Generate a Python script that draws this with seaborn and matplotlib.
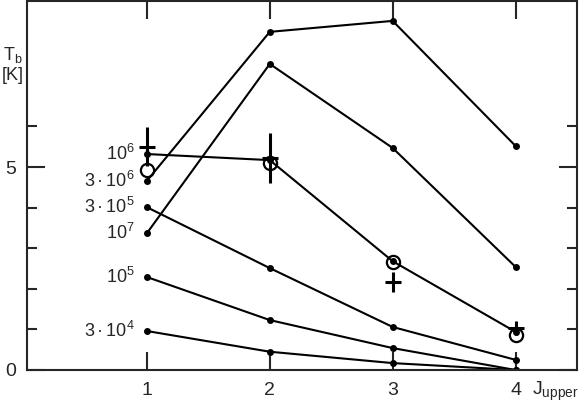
import numpy as np
import pandas as pd
import matplotlib
matplotlib.use("Agg")
import matplotlib.pyplot as plt
import seaborn as sns

# model curves, T_b [K] versus J_upper, one per density label
j_upper = [1, 2, 3, 4]
labels = ["3$\\,$·$\\,$10$^{6}$", "10$^{7}$", "10$^{6}$", "3$\\,$·$\\,$10$^{5}$", "10$^{5}$", "3$\\,$·$\\,$10$^{4}$"]
tb_3e6 = [4.66, 8.33, 8.60, 5.52]
tb_1e7 = [3.37, 7.54, 5.47, 2.54]
tb_1e6 = [5.32, 5.17, 2.68, 0.94]
tb_3e5 = [4.01, 2.51, 1.06, 0.25]
tb_1e5 = [2.29, 1.23, 0.54, 0.00]
tb_3e4 = [0.96, 0.45, 0.17, 0.00]

# observations: open circles and crosses with error bars
obs_circle = [4.93, 5.10, 2.66, 0.86]
obs_cross = [5.50, 5.22, 2.17, 1.03]
obs_err = [0.48, 0.62, 0.24, 0.18]

series = [tb_3e6, tb_1e7, tb_1e6, tb_3e5, tb_1e5, tb_3e4]
df = pd.DataFrame({
    "J": j_upper * len(series),
    "Tb": sum(series, []),
    "n": np.repeat(labels, len(j_upper)),
})

sns.set_style("ticks")
plt.rcParams["font.family"] = ["Liberation Sans", "DejaVu Sans"]
plt.rcParams["mathtext.fontset"] = "custom"
plt.rcParams["mathtext.rm"] = "Liberation Sans"
plt.rcParams["mathtext.default"] = "regular"

fig = plt.figure(figsize=(5.79, 4.03), dpi=100)
ax = fig.add_axes([0.0466, 0.0819, 0.9499, 0.9156])

sns.lineplot(data=df, x="J", y="Tb", units="n", estimator=None, color="k",
             marker="o", markersize=5, markeredgewidth=0, linewidth=1.5,
             sort=False, ax=ax, legend=False)

ax.plot(j_upper, obs_circle, linestyle="none", marker="o", markersize=9.5,
        markerfacecolor="none", markeredgecolor="k", markeredgewidth=1.6)
ax.errorbar(j_upper, obs_cross, yerr=obs_err, xerr=0.065, fmt="none",
            ecolor="k", elinewidth=2.2, capsize=0)

# density labels to the left of the J=1 points
for lab, vals in zip(labels, series):
    ax.annotate(lab, xy=(1, vals[0]), xytext=(-12, -6), textcoords="offset pixels",
                ha="right", va="baseline", fontsize=13)

ax.set_xlim(0.024, 4.5)
ax.set_ylim(0, 9.09)
ax.set_xticks(j_upper)
ax.set_xticklabels([str(j) for j in j_upper])
ax.set_yticks([0, 5])
ax.set_yticklabels(["0", "5"])
ax.set_yticks([1, 2, 3, 4, 6], minor=True)
ax.tick_params(axis="both", which="major", direction="in", length=13, width=1.5,
               labelsize=14, top=True, right=True)
ax.tick_params(axis="y", which="minor", direction="in", length=7, width=1.5,
               left=True, right=True)
ax.tick_params(axis="x", pad=9)
ax.tick_params(axis="y", pad=8)
for s in ax.spines.values():
    s.set_linewidth(1.5)
    s.set_visible(True)

ax.set_xlabel("")
ax.set_ylabel("")
ax.annotate("J$_{upper}$", xy=(4, 0), xytext=(16, -25), textcoords="offset pixels",
            fontsize=14, ha="left", va="baseline", annotation_clip=False)
fig.text(0.022, 0.84, "T$_{b}$\n[K]", fontsize=13, ha="center", va="center",
         linespacing=1.15)

fig.savefig("out.png", dpi=100)
